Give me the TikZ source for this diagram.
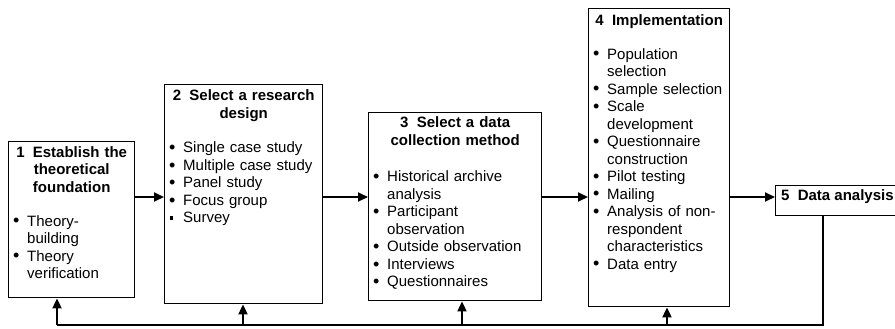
\documentclass[tikz,border=0pt]{standalone}
\usepackage{fontspec}
\setmainfont{Liberation Sans}
\usetikzlibrary{arrows.meta,calc}

% list markers: round bullet and small square, both in a fixed-width slot
\newcommand\bul{\makebox[14bp][l]{\raisebox{-0.8bp}{\fontsize{18bp}{18bp}\selectfont\textbullet}}}
\newcommand\sqbul{\makebox[14bp][l]{\hspace{0.8bp}\rule[3bp]{3.4bp}{3.4bp}}}
\newcommand\cont{\hspace*{14bp}}
\newcommand\numgap{\hspace{0.55em}}

\tikzset{
  txt/.style={font=\fontsize{15bp}{17.5bp}\selectfont, inner sep=0pt},
  stagebox/.style={draw, line width=1.4bp, inner sep=0pt, anchor=north west},
  title/.style={txt, anchor=base, align=center, font=\fontsize{15bp}{17.5bp}\selectfont\bfseries},
  items/.style={txt, anchor=base west, align=left},
  conn/.style={line width=1.9bp},
  arr/.style={conn, -{Triangle[length=10bp,width=9bp]}}
}

\begin{document}
\begin{tikzpicture}[x=1bp,y=1bp]
\useasboundingbox (0,0) rectangle (895,-328);

% stage boxes
\node[stagebox, minimum width=126bp, minimum height=156bp] (b1) at (8,-141) {};
\node[stagebox, minimum width=158bp, minimum height=219bp] (b2) at (164,-84) {};
\node[stagebox, minimum width=173bp, minimum height=188bp] (b3) at (368,-112) {};
\node[stagebox, minimum width=141bp, minimum height=298bp] (b4) at (588,-8) {};
\node[stagebox, minimum width=120bp, minimum height=30bp] (b5) at (775,-185) {};

% stage 1
\node[title, text width=118bp] (t1) at ($(b1.north)+(0,-16)$)
  {1\numgap Establish the\\theoretical\\foundation};
\node[items, text width=118bp] (l1) at ($(b1.north west)+(5,-85)$)
  {\bul Theory-\\\cont building\\\bul Theory\\\cont verification};

% stage 2
\node[title, text width=150bp] (t2) at ($(b2.north)+(0,-16.5)$)
  {2\numgap Select a research\\design};
\node[items, text width=150bp] (l2) at ($(b2.north west)+(5,-68.7)$)
  {\bul Single case study\\\bul Multiple case study\\\bul Panel study\\\bul Focus group\\\sqbul Survey};

% stage 3
\node[title, text width=165bp] (t3) at ($(b3.north)+(0,-15.7)$)
  {3\numgap Select a data\\collection method};
\node[items, text width=165bp] (l3) at ($(b3.north west)+(5,-69.7)$)
  {\bul Historical archive\\\cont analysis\\\bul Participant\\\cont observation\\\bul Outside observation\\\bul Interviews\\\bul Questionnaires};

% stage 4
\node[title, text width=135bp] (t4) at ($(b4.north)+(0,-17)$)
  {4\numgap Implementation};
\node[items, text width=135bp] (l4) at ($(b4.north west)+(5,-51)$)
  {\bul Population\\\cont selection\\\bul Sample selection\\\bul Scale\\\cont development\\\bul Questionnaire\\\cont construction\\\bul Pilot testing\\\bul Mailing\\\bul Analysis of non-\\\cont respondent\\\cont characteristics\\\bul Data entry};

% stage 5
\node[txt, font=\fontsize{15bp}{17.5bp}\selectfont\bfseries, anchor=base west] (t5)
  at ($(b5.north west)+(6,-15)$) {5\numgap Data analysis};

% forward flow
\coordinate (row) at (0,-197);
\draw[arr] (b1.east |- row) -- (b2.west |- row);
\draw[arr] (b2.east |- row) -- (b3.west |- row);
\draw[arr] (b3.east |- row) -- (b4.west |- row);
\draw[arr] (b4.east |- row) -- (b5.west |- row);

% feedback loop
\coordinate (fbR) at (823,-325);
\coordinate (fbL) at (57,-325);
\coordinate (fb2) at (243,-325);
\coordinate (fb3) at (462,-325);
\coordinate (fb4) at (667,-325);
\draw[conn] (b5.south -| fbR) -- (fbR) -- (fbL);
\draw[arr] (fbL) -- (fbL |- b1.south);
\draw[arr] (fb2) -- (fb2 |- b2.south);
\draw[arr] (fb3) -- (fb3 |- b3.south);
\draw[arr] (fb4) -- (fb4 |- b4.south);
\end{tikzpicture}
\end{document}
